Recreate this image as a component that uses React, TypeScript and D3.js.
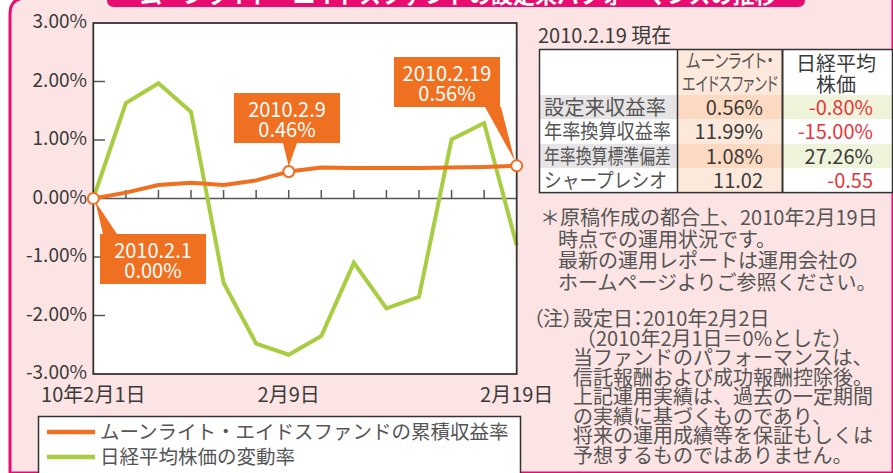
import React from "react";
import * as d3 from "d3";

const dates = ["2/1", "2/2", "2/3", "2/4", "2/5", "2/8", "2/9", "2/10", "2/12", "2/15", "2/16", "2/17", "2/18", "2/19"];
const fundValues = [0, 0.1, 0.23, 0.27, 0.23, 0.31, 0.46, 0.53, 0.52, 0.52, 0.52, 0.53, 0.54, 0.56];
const nikkeiValues = [0, 1.63, 1.97, 1.48, -1.44, -2.48, -2.67, -2.35, -1.1, -1.88, -1.68, 1.01, 1.29, -0.8];
const yTicks = [3, 2, 1, 0, -1, -2, -3];
const xTickLabels = [
  { date: "2/1", label: "10年2月1日" },
  { date: "2/9", label: "2月9日" },
  { date: "2/19", label: "2月19日" },
];
const callouts = [
  { date: "2/1", line1: "2010.2.1", line2: "0.00%" },
  { date: "2/9", line1: "2010.2.9", line2: "0.46%" },
  { date: "2/19", line1: "2010.2.19", line2: "0.56%" },
];
const legendLabels = ["ムーンライト・エイドスファンドの累積収益率", "日経平均株価の変動率"];
const titleText = "ムーンライト・エイドスファンドの設定来パフォーマンスの推移";
const tableTitle = "2010.2.19 現在";
const tableRows = ["設定来収益率", "年率換算収益率", "年率換算標準偏差", "シャープレシオ"];
const fundStats = ["0.56%", "11.99%", "1.08%", "11.02"];
const nikkeiStats = ["-0.80%", "-15.00%", "27.26%", "-0.55"];
const notes1 = [
  "＊原稿作成の都合上、2010年2月19日",
  "時点での運用状況です。",
  "最新の運用レポートは運用会社の",
  "ホームページよりご参照ください。",
];
const notes2 = [
  "（注）設定日：2010年2月2日",
  "（2010年2月1日＝0%とした）",
  "当ファンドのパフォーマンスは、",
  "信託報酬および成功報酬控除後。",
  "上記運用実績は、過去の一定期間",
  "の実績に基づくものであり、",
  "将来の運用成績等を保証もしくは",
  "予想するものではありません。",
];

const ORANGE = "#f07022";
const GREEN = "#a8cd42";
const MAGENTA = "#e90c70";
const PINK = "#fbe4e3";
const TEXT = "#3a3a3a";
const GRAYTEXT = "#555";
const RED = "#e8343c";
const FONT = "'Noto Sans CJK JP', 'Noto Sans', sans-serif";
const PALT = { fontFeatureSettings: "'palt'" } as React.CSSProperties;

// layout for callout boxes: box rect and pointer base
const calloutLayout = [
  { bx: 100, by: 234, bw: 106, bh: 50, p1: 103, p2: 117, py: 234 },
  { bx: 234, by: 93, bw: 106, bh: 50, p1: 283, p2: 297, py: 143 },
  { bx: 394, by: 57, bw: 106, bh: 50, p1: 485, p2: 501, py: 107 },
];
const rowLabelWidths = [122, 127, 127, 123];

export default function App() {
  const x = d3.scalePoint<string>().domain(dates).range([93.3, 516.7]);
  const y = d3.scaleLinear().domain([-3, 3]).range([374, 23]);
  const line = d3
    .line<number>()
    .x((_, i) => x(dates[i]) as number)
    .y((d) => y(d));

  const tX = 539.5, tW = 353;
  const c1 = 677.5, c2 = 782.5;
  const headTop = 49.5, headBot = 95;
  const rowH = 24.4;

  return (
    <svg
      width={893}
      height={473}
      style={{ position: "absolute", left: 0, top: 0 }}
      fontFamily={FONT}
    >
      {/* background panel */}
      <rect x={0} y={0} width={893} height={473} fill="#fff" />
      <path d={`M10,473 L10,14 Q10,-2 26,-2 L893,-2 L893,473 Z`} fill={PINK} stroke={MAGENTA} strokeWidth={3} />
      {/* title tab */}
      <path d={`M107,-5 L805,-5 L805,0 Q805,7 798,7 L114,7 Q107,7 107,0 Z`} fill={MAGENTA} />
      <text x={140} y={3} fill="#fff" fontSize={22} fontWeight={700}>
        {titleText}
      </text>

      {/* plot area */}
      <rect x={93.3} y={23} width={423.4} height={351} fill="#fff" />
      {/* zero line and ticks */}
      <line x1={93.3} x2={516.7} y1={y(0)} y2={y(0)} stroke="#555" strokeWidth={1.5} />
      {dates.slice(1, -1).map((d) => (
        <line key={d} x1={x(d)} x2={x(d)} y1={y(0)} y2={y(0) - 8.5} stroke="#555" strokeWidth={1.5} />
      ))}
      {yTicks
        .filter((v) => v !== 0 && Math.abs(v) !== 3)
        .map((v) => (
          <line key={v} x1={93.3} x2={105} y1={y(v)} y2={y(v)} stroke="#555" strokeWidth={1.5} />
        ))}

      {/* series */}
      <path d={line(nikkeiValues) || ""} fill="none" stroke={GREEN} strokeWidth={4} strokeLinejoin="miter" />
      <path d={line(fundValues) || ""} fill="none" stroke={ORANGE} strokeWidth={4} strokeLinejoin="round" />

      {/* plot border */}
      <rect x={93.3} y={23} width={423.4} height={351} fill="none" stroke="#333" strokeWidth={1.8} />

      {/* callouts */}
      {callouts.map((c, i) => {
        const L = calloutLayout[i];
        const idx = dates.indexOf(c.date);
        const px = x(c.date) as number;
        const py = y(fundValues[idx]);
        const cx = L.bx + L.bw / 2;
        const tipX = px + (i === 0 ? 2 : i === 2 ? -2 : 0);
        const tipY = py + (i === 0 ? 3 : -5);
        return (
          <g key={c.date}>
            <rect x={L.bx} y={L.by} width={L.bw} height={L.bh} fill={ORANGE} />
            <polygon points={`${L.p1},${L.py} ${L.p2},${L.py} ${tipX},${tipY}`} fill={ORANGE} />
            <text x={cx} y={L.by + 24} textAnchor="middle" fill="#fff" fontSize={20}>
              {c.line1}
            </text>
            <text x={cx} y={L.by + 44} textAnchor="middle" fill="#fff" fontSize={20}>
              {c.line2}
            </text>
          </g>
        );
      })}
      {callouts.map((c) => {
        const idx = dates.indexOf(c.date);
        return (
          <circle
            key={"m" + c.date}
            cx={x(c.date)}
            cy={y(fundValues[idx])}
            r={5.5}
            fill="#fff"
            stroke={ORANGE}
            strokeWidth={2}
          />
        );
      })}

      {/* y labels */}
      {yTicks.map((v) => (
        <text key={v} x={87} y={y(v) + 5} textAnchor="end" fill={TEXT} fontSize={19}>
          {v.toFixed(2) + "%"}
        </text>
      ))}
      {/* x labels */}
      {xTickLabels.map((t) => (
        <text key={t.date} x={x(t.date)} y={402} textAnchor="middle" fill={TEXT} fontSize={20}>
          {t.label}
        </text>
      ))}

      {/* legend */}
      <rect x={38.5} y={416.5} width={482} height={70} fill="#fff" stroke="#333" strokeWidth={1.5} />
      {legendLabels.map((l, i) => (
        <g key={l}>
          <line x1={47} x2={95} y1={432 + i * 25} y2={432 + i * 25} stroke={i === 0 ? ORANGE : GREEN} strokeWidth={4.5} />
          <text x={100} y={439 + i * 25} fill={GRAYTEXT} fontSize={19.5}>
            {l}
          </text>
        </g>
      ))}

      {/* table */}
      <text x={538} y={43} fill={TEXT} fontSize={20}>
        {tableTitle}
      </text>
      <rect x={tX} y={headTop} width={tW} height={headBot - headTop + rowH * 4} fill="#fff" />
      <rect x={c1} y={headTop} width={c2 - c1} height={headBot - headTop} fill="#fde9dc" />
      {tableRows.map((r, i) => {
        const top = headBot + i * rowH;
        const odd = i % 2 === 0;
        return (
          <g key={r}>
            <rect x={tX} y={top} width={c1 - tX} height={rowH} fill={odd ? "#e6e4e4" : "#fff"} />
            <rect x={c1} y={top} width={c2 - c1} height={rowH} fill={odd ? "#fcd9c1" : "#fde9dc"} />
            <rect x={c2} y={top} width={tX + tW - c2} height={rowH} fill={odd ? "#eef3da" : "#fff"} />
            <text
              x={544}
              y={top + 20}
              fill={GRAYTEXT}
              fontSize={20}
              textLength={rowLabelWidths[i]}
              lengthAdjust="spacingAndGlyphs"
            >
              {r}
            </text>
            <text x={763} y={top + 20} textAnchor="end" fill={TEXT} fontSize={20}>
              {fundStats[i]}
            </text>
            <text
              x={873}
              y={top + 20}
              textAnchor="end"
              fill={nikkeiStats[i].startsWith("-") ? RED : TEXT}
              fontSize={20}
            >
              {nikkeiStats[i]}
            </text>
          </g>
        );
      })}
      <g fill={GRAYTEXT} fontSize={19} textAnchor="middle">
        <text x={730} y={68} textLength={88} lengthAdjust="spacingAndGlyphs" style={PALT}>ムーンライト・</text>
        <text x={730} y={91} textLength={96} lengthAdjust="spacingAndGlyphs" style={PALT}>エイドスファンド</text>
      </g>
      <g fill={TEXT} fontSize={20} textAnchor="middle">
        <text x={836} y={71}>日経平均</text>
        <text x={836} y={92}>株価</text>
      </g>
      <rect x={tX} y={headTop} width={tW} height={headBot - headTop + rowH * 4} fill="none" stroke="#333" strokeWidth={1.5} />
      <line x1={c1} x2={c1} y1={headTop} y2={headBot + rowH * 4} stroke="#333" strokeWidth={1.5} />
      <line x1={c2} x2={c2} y1={headTop} y2={headBot + rowH * 4} stroke="#333" strokeWidth={2} />

      {/* notes */}
      {notes1.map((n, i) => (
        <text key={n} x={i === 0 ? 540 : 558} y={225 + i * 21.7} fill={GRAYTEXT} fontSize={20}>
          {n}
        </text>
      ))}
      {notes2.map((n, i) => (
        <text
          key={n}
          x={i === 0 ? 533 : i === 1 ? 576 : 573}
          y={326 + i * 19.5}
          fill={GRAYTEXT}
          fontSize={20}
          style={i === 0 ? PALT : undefined}
        >
          {n}
        </text>
      ))}
    </svg>
  );
}
